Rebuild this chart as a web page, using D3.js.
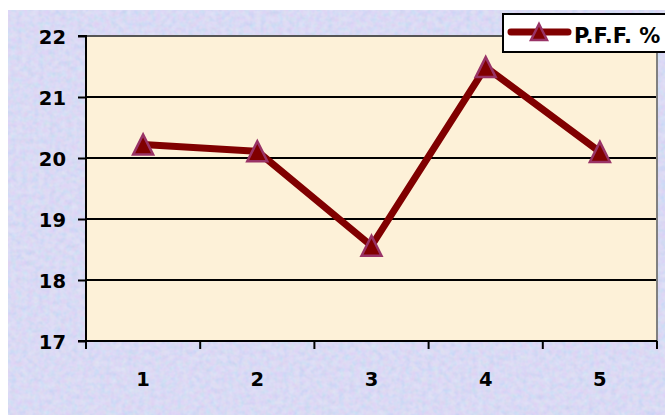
<!DOCTYPE html>
<html><head><meta charset="utf-8">
<script src="https://cdn.jsdelivr.net/npm/d3@7"></script>
<style>html,body{margin:0;padding:0;background:#fff;}svg{display:block;}</style>
</head><body>
<script>
const categories = ["1","2","3","4","5"];
const pffValues = [20.22, 20.11, 18.56, 21.49, 20.10];
const yTicks = [17,18,19,20,21,22];
const seriesName = "P.F.F. %";

const W = 665, H = 415;
const FONT = "'DejaVu Sans', Arial, sans-serif";
const svg = d3.select("body").append("svg").attr("width", W).attr("height", H);
const defs = svg.append("defs");
const f = defs.append("filter").attr("id","tex").attr("x",0).attr("y",0).attr("width","100%").attr("height","100%");
f.append("feTurbulence").attr("type","fractalNoise").attr("baseFrequency","0.18").attr("numOctaves",2).attr("seed",3).attr("result","n");
f.append("feColorMatrix").attr("in","n").attr("type","matrix")
 .attr("values","0.9 0 0 0 0.45  0 0.5 0 0 0.55  0 0 0.3 0 0.8  0 0 0 0 0.35");
f.append("feComposite").attr("in2","SourceGraphic").attr("operator","over");

svg.append("rect").attr("width",W).attr("height",H).attr("fill","#fff");
svg.append("rect").attr("x",8).attr("y",10).attr("width",W-8).attr("height",H-10).attr("fill","#C9D2F1");
svg.append("rect").attr("x",8).attr("y",10).attr("width",W-8).attr("height",H-10).attr("fill","#C9D2F1").attr("filter","url(#tex)");

const pl = 86, pr = 657, pt = 36, pb = 341;
const x = d3.scaleBand().domain(categories).range([pl, pr]);
const y = d3.scaleLinear().domain([17,22]).range([pb, pt]);

svg.append("rect").attr("x",pl).attr("y",pt).attr("width",pr-pl).attr("height",pb-pt).attr("fill","#FDF1D8");

// gridlines
svg.append("g").selectAll("line").data(yTicks.filter(d=>d>17)).join("line")
  .attr("x1",pl).attr("x2",pr).attr("y1",d=>y(d)).attr("y2",d=>y(d))
  .attr("stroke",d=>d===22?"#555":"#000").attr("stroke-width",2);
// right border
svg.append("line").attr("x1",pr).attr("x2",pr).attr("y1",pt).attr("y2",pb).attr("stroke","#808080").attr("stroke-width",2);

// y axis
const yAxis = d3.axisLeft(y).tickValues(yTicks).tickSize(8).tickPadding(12).tickFormat(d3.format("d"));
const ya = svg.append("g").attr("transform",`translate(${pl},0)`).call(yAxis);
ya.select(".domain").attr("stroke","#000").attr("stroke-width",2).attr("d",`M-8,${pt}H0V${pb}H-8`);
ya.selectAll(".tick line").attr("stroke","#000").attr("stroke-width",2);
ya.selectAll(".tick text").attr("font-family",FONT).attr("font-size",19.5).attr("font-weight","bold").attr("fill","#000").attr("dy","0.4em");

// x axis
const xa = svg.append("g").attr("transform",`translate(0,${pb})`);
xa.append("line").attr("x1",pl).attr("x2",pr).attr("stroke","#000").attr("stroke-width",2);
const bounds = categories.map(c=>x(c)).concat([pr]);
xa.selectAll("line.t").data(bounds).join("line").attr("class","t")
  .attr("x1",d=>d).attr("x2",d=>d).attr("y1",0).attr("y2",8).attr("stroke","#000").attr("stroke-width",2);
xa.selectAll("text").data(categories).join("text")
  .attr("x",d=>x(d)+x.bandwidth()/2).attr("y",38).attr("text-anchor","middle").attr("dy","0.36em")
  .attr("font-family",FONT).attr("font-size",19.5).attr("font-weight","bold").text(d=>d);

// line
const pts = categories.map((c,i)=>[x(c)+x.bandwidth()/2, y(pffValues[i])]);
svg.append("path").attr("d",d3.line()(pts)).attr("fill","none").attr("stroke","#800000").attr("stroke-width",7).attr("stroke-linejoin","miter");
const tri = (s)=>`M0,${-s/2}L${s/2},${s/2}L${-s/2},${s/2}Z`;
svg.append("g").selectAll("path").data(pts).join("path")
  .attr("transform",d=>`translate(${d[0]},${d[1]})`).attr("d",tri(20))
  .attr("fill","#800000").attr("stroke","#993366").attr("stroke-width",2.5);

// legend
const lg = svg.append("g");
lg.append("rect").attr("x",503).attr("y",14).attr("width",175).attr("height",38).attr("fill","#fff").attr("stroke","#000").attr("stroke-width",2);
lg.append("line").attr("x1",511).attr("x2",568).attr("y1",32).attr("y2",32).attr("stroke","#800000").attr("stroke-width",7).attr("stroke-linecap","round");
lg.append("path").attr("transform","translate(539,32)").attr("d",tri(16)).attr("fill","#800000").attr("stroke","#993366").attr("stroke-width",2.5);
lg.append("text").attr("x",574).attr("y",35).attr("dy","0.36em").attr("font-family",FONT).attr("font-size",21).attr("font-weight","bold").text(seriesName);
</script>
</body></html>
